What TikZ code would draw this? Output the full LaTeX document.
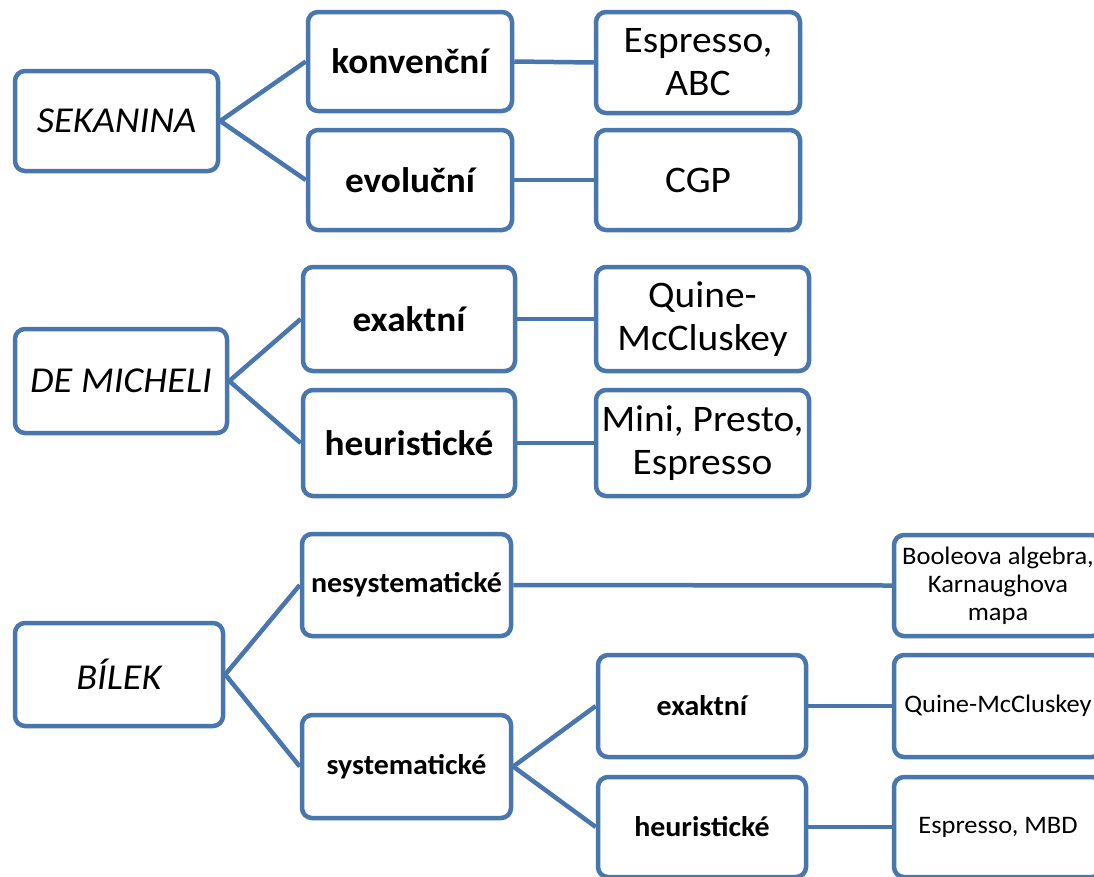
\documentclass[tikz,border=0pt]{standalone}
\usepackage{fontspec}
\setmainfont{Carlito}[FakeStretch=1.05]
\definecolor{boxblue}{HTML}{4A76AE}
\begin{document}
\begin{tikzpicture}[x=1pt,y=-1pt,
  box/.style={draw=boxblue, line width=4.5pt, rounded corners=10pt, fill=white,
    align=center, inner sep=0pt, anchor=center},
  link/.style={draw=boxblue, line width=4.5pt},
  big/.style={font=\fontsize{37.5}{43}\selectfont},
  bigit/.style={font=\fontsize{36.5}{43}\selectfont\itshape},
  bigbf/.style={font=\fontsize{35.5}{43}\selectfont\bfseries},
  midbf/.style={font=\fontsize{28.5}{34}\selectfont\bfseries},
  small/.style={font=\fontsize{25.2}{28}\selectfont}]
\path[use as bounding box, clip] (0,0) rectangle (1094,876);

% first tree
\node[box, bigit, minimum width=203pt, minimum height=100pt] (sek) at (116.5,121) {SEKANINA};
\node[box, bigbf, minimum width=204pt, minimum height=99pt] (konv) at (410,61.5) {konvenční};
\node[box, bigbf, minimum width=204pt, minimum height=100pt] (evol) at (410,180) {evoluční};
\node[box, big, minimum width=204pt, minimum height=101pt] (esp) at (698,62.5) {Espresso,\\ABC};
\node[box, big, minimum width=204pt, minimum height=100pt] (cgp) at (698,180) {CGP};
\draw[link] (sek.east) -- (konv.west);
\draw[link] (sek.east) -- (evol.west);
\draw[link] (konv.east) -- (esp.west);
\draw[link] (evol.east) -- (cgp.west);

% second tree
\node[box, bigit, minimum width=212pt, minimum height=104pt] (dem) at (121,381) {DE MICHELI};
\node[box, bigbf, minimum width=212pt, minimum height=104pt] (exa) at (409,319) {exaktní};
\node[box, bigbf, minimum width=212pt, minimum height=106pt] (heu) at (409,443) {heuristické};
\node[box, big, minimum width=213pt, minimum height=104pt] (qmc) at (702.5,319) {Quine-\\McCluskey};
\node[box, big, minimum width=213pt, minimum height=106pt] (mps) at (702.5,443) {Mini, Presto,\\Espresso};
\draw[link] (dem.east) -- (exa.west);
\draw[link] (dem.east) -- (heu.west);
\draw[link] (exa.east) -- (qmc.west);
\draw[link] (heu.east) -- (mps.west);

% third tree
\node[box, bigit, minimum width=208pt, minimum height=103pt] (bil) at (119,674.5) {BÍLEK};
\node[box, midbf, minimum width=209pt, minimum height=102pt] (nes) at (406.5,585) {nesystematické};
\node[box, midbf, minimum width=209pt, minimum height=103pt] (sys) at (406.5,766.5) {systematické};
\node[box, midbf, minimum width=208pt, minimum height=102pt] (exb) at (702,706) {exaktní};
\node[box, midbf, minimum width=208pt, minimum height=100pt] (heb) at (702,827) {heuristické};
\node[box, small, minimum width=208pt, minimum height=101pt] (boo) at (998,585.5) {Booleova algebra,\\Karnaughova\\mapa};
\node[box, small, minimum width=208pt, minimum height=102pt] (qmb) at (998,706) {Quine-McCluskey};
\node[box, small, minimum width=208pt, minimum height=100pt] (mbd) at (998,827) {Espresso, MBD};
\draw[link] (bil.east) -- (nes.west);
\draw[link] (bil.east) -- (sys.west);
\draw[link] (nes.east) -- (boo.west);
\draw[link] (sys.east) -- (exb.west);
\draw[link] (sys.east) -- (heb.west);
\draw[link] (exb.east) -- (qmb.west);
\draw[link] (heb.east) -- (mbd.west);
\end{tikzpicture}
\end{document}
